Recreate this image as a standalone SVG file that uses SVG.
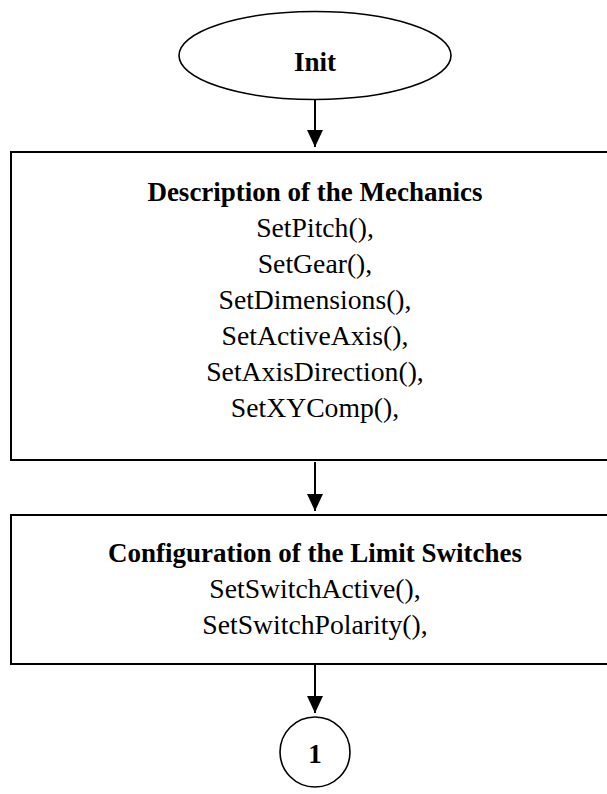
<svg xmlns="http://www.w3.org/2000/svg" width="607" height="794" viewBox="0 0 607 794">
<style>
.shape{fill:#fff;stroke:#000;stroke-width:2}
.t{font-family:"Liberation Serif","Times New Roman",serif;font-size:27.7px;fill:#000;text-anchor:middle}
.b{font-weight:bold;font-size:27px}
.c{stroke:#000;stroke-width:2;fill:none}
</style>
<defs>
<marker id="ah" markerUnits="userSpaceOnUse" markerWidth="18" markerHeight="18" viewBox="0 0 18 18" refX="17" refY="9" orient="auto">
<path d="M0,1 L17,9 L0,17 Z" fill="#000"/>
</marker>
</defs>
<rect width="607" height="794" fill="#fff"/>
<g id="connectors">
<line class="c" x1="315" y1="100" x2="315" y2="147" marker-end="url(#ah)"/>
<line class="c" x1="315" y1="462" x2="315" y2="511" marker-end="url(#ah)"/>
<line class="c" x1="315" y1="664" x2="315" y2="713" marker-end="url(#ah)"/>
</g>
<g id="init">
<ellipse class="shape" style="stroke-width:1.6" cx="315" cy="55.5" rx="136" ry="44"/>
<text class="t b" x="315" y="71">Init</text>
</g>
<g id="mechanics">
<rect class="shape" x="11" y="152" width="610" height="308"/>
<text class="t b" x="315" y="201">Description of the Mechanics</text>
<text class="t" x="315" y="237">SetPitch(),</text>
<text class="t" x="315" y="273">SetGear(),</text>
<text class="t" x="315" y="309">SetDimensions(),</text>
<text class="t" x="315" y="345">SetActiveAxis(),</text>
<text class="t" x="315" y="381">SetAxisDirection(),</text>
<text class="t" x="315" y="417">SetXYComp(),</text>
</g>
<g id="limit-switches">
<rect class="shape" x="11" y="515" width="610" height="149"/>
<text class="t b" x="315" y="562">Configuration of the Limit Switches</text>
<text class="t" x="315" y="598">SetSwitchActive(),</text>
<text class="t" x="315" y="634">SetSwitchPolarity(),</text>
</g>
<g id="connector-1">
<circle class="shape" style="stroke-width:1.6" cx="315" cy="752" r="35"/>
<text class="t b" x="315" y="763">1</text>
</g>
</svg>
